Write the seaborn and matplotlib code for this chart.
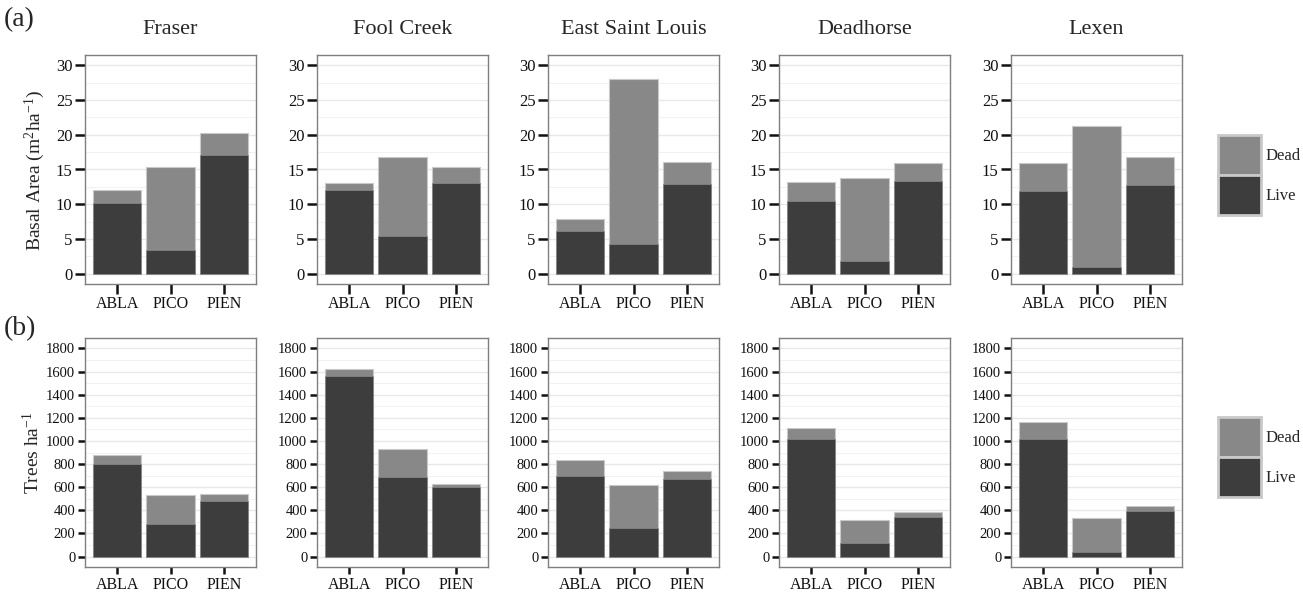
import matplotlib
matplotlib.use("Agg")
import matplotlib.pyplot as plt
import seaborn as sns
import pandas as pd
import numpy as np
from matplotlib.patches import Patch
from matplotlib.ticker import MultipleLocator

sites = ["Fraser", "Fool Creek", "East Saint Louis", "Deadhorse", "Lexen"]
species = ["ABLA", "PICO", "PIEN"]

# Basal area (m2/ha): live and total (live + dead)
ba_live = [[10.2, 3.4, 17.1], [12.1, 5.4, 13.1], [6.1, 4.2, 12.9], [10.4, 1.8, 13.3], [11.9, 1.0, 12.7]]
ba_total = [[12.0, 15.3, 20.2], [13.0, 16.8, 15.3], [7.9, 28.0, 16.1], [13.2, 13.8, 15.9], [16.0, 21.3, 16.8]]

# Trees per ha: live and total
tph_live = [[800, 280, 480], [1565, 690, 600], [700, 245, 670], [1015, 120, 340], [1020, 40, 390]]
tph_total = [[875, 530, 540], [1620, 930, 630], [835, 615, 740], [1110, 315, 385], [1165, 335, 435]]

ba_ticks = [0, 5, 10, 15, 20, 25, 30]
tph_ticks = [0, 200, 400, 600, 800, 1000, 1200, 1400, 1600, 1800]

DEAD = "#888888"
LIVE = "#3d3d3d"

def make_df(live, total):
    rows = []
    for i, s in enumerate(sites):
        for j, sp in enumerate(species):
            rows.append(dict(site=s, species=sp, live=live[i][j], total=total[i][j]))
    return pd.DataFrame(rows)

df_ba = make_df(ba_live, ba_total)
df_tph = make_df(tph_live, tph_total)

sns.set_theme(style="white")
plt.rcParams["font.family"] = ["Liberation Serif", "DejaVu Serif"]
plt.rcParams["mathtext.default"] = "regular"

W, H = 1303, 592
fig = plt.figure(figsize=(W / 100, H / 100), dpi=100)

panel_left = [85, 317, 548, 779, 1011]
panel_w = 171

def px_axes(x0, y0, x1, y1):
    return fig.add_axes([x0 / W, 1 - y1 / H, (x1 - x0) / W, (y1 - y0) / H])

def draw_row(df, y0, y1, ticks, ylim, minor, with_title, ylab_size, xlab_size, tick_len):
    for i, s in enumerate(sites):
        ax = px_axes(panel_left[i], y0, panel_left[i] + panel_w, y1)
        sub = df[df.site == s]
        ax.set_axisbelow(True)
        ax.yaxis.set_minor_locator(MultipleLocator(minor))
        ax.grid(True, which="major", color="#e8e8e8", linewidth=1.0)
        ax.grid(True, which="minor", axis="y", color="#f0f0f0", linewidth=0.6)
        sns.barplot(data=sub, x="species", y="total", color=DEAD, saturation=1,
                    width=0.9, edgecolor="#c9c9c9", linewidth=0.8, ax=ax, errorbar=None)
        sns.barplot(data=sub, x="species", y="live", color=LIVE, saturation=1,
                    width=0.9, edgecolor="#8a8a8a", linewidth=0.5, ax=ax, errorbar=None)
        ax.set_xlim(-0.6, 2.6)
        ax.set_ylim(*ylim)
        ax.set_yticks(ticks)
        ax.set_xlabel("")
        ax.set_ylabel("")
        for sp in ax.spines.values():
            sp.set_color("#7f7f7f")
            sp.set_linewidth(1.0)
        ax.tick_params(axis="both", which="major", length=tick_len, width=1.8, color="#111111",
                       labelcolor="#111111", pad=2, left=True, bottom=True)
        ax.tick_params(axis="y", labelsize=ylab_size)
        ax.tick_params(axis="x", labelsize=xlab_size)
        ax.tick_params(axis="y", which="minor", length=0)
        if with_title:
            fig.text((panel_left[i] + panel_w / 2) / W, 1 - 30 / H, s,
                     ha="center", va="center", fontsize=16)

draw_row(df_ba, 55, 284, ba_ticks, (-1.5, 31.5), 2.5, True, 12, 11.5, 7)
draw_row(df_tph, 338, 567, tph_ticks, (-90, 1890), 100, False, 10.5, 11.5, 5)

fig.text(4 / W, 1 - 20 / H, "(a)", ha="left", va="center", fontsize=20)
fig.text(4 / W, 1 - 329 / H, "(b)", ha="left", va="center", fontsize=20)
fig.text(35 / W, 1 - 170 / H, "Basal Area (m$^2$ha$^{-1}$)", rotation=90,
         ha="center", va="center", fontsize=14)
fig.text(33 / W, 1 - 453 / H, "Trees ha$^{-1}$", rotation=90,
         ha="center", va="center", fontsize=14)

handles = [Patch(facecolor=DEAD, edgecolor="#c9c9c9", linewidth=2, label="Dead"),
           Patch(facecolor=LIVE, edgecolor="#c9c9c9", linewidth=2, label="Live")]
for yc in (175, 457):
    fig.legend(handles=handles, loc="center left",
               bbox_to_anchor=(1211 / W, 1 - yc / H), frameon=False,
               fontsize=12, handlelength=2.6, handleheight=3.3,
               labelspacing=0.0, handletextpad=0.3, borderaxespad=0)

fig.savefig("out.png", dpi=100)
